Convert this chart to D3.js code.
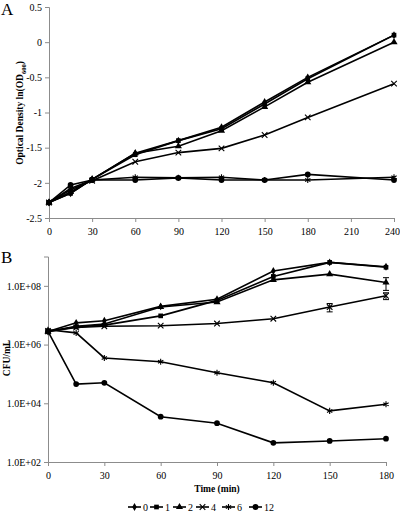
<!DOCTYPE html>
<html><head><meta charset="utf-8">
<script src="https://cdn.jsdelivr.net/npm/d3@7"></script>
<style>body{margin:0;background:#fff}svg{display:block}text{font-family:"Liberation Serif","Times New Roman",serif}</style>
</head><body><svg id="c" width="400" height="511"></svg>
<script>
// ---------- DATA ----------
const seriesNames = ["0","1","2","4","6","12"];
// Panel A: ln(OD600) vs time (min)
const timesA = [0,15,30,60,90,120,150,180,240];
const odA_0  = [-2.28,-2.15,-1.95,-1.58,-1.40,-1.21,-0.85,-0.50,0.10];
const odA_1  = [-2.28,-2.15,-1.95,-1.60,-1.40,-1.23,-0.88,-0.52,0.10];
const odA_2  = [-2.28,-2.13,-1.95,-1.58,-1.48,-1.26,-0.92,-0.57,0.00];
const odA_4  = [-2.28,-2.10,-1.97,-1.70,-1.57,-1.51,-1.32,-1.07,-0.59];
const odA_6  = [-2.28,-2.08,-1.96,-1.92,-1.93,-1.92,-1.96,-1.96,-1.92];
const odA_12 = [-2.28,-2.03,-1.96,-1.96,-1.93,-1.96,-1.96,-1.88,-1.96];
const yTicksA = [0.5,0,-0.5,-1,-1.5,-2,-2.5];
const xTicksA = [0,30,60,90,120,150,180,210,240];
// Panel B: CFU/mL vs time (min)
const timesB = [0,15,30,60,90,120,150,180];
const cfuB_0  = [2.8e6,5.5e6,6.5e6,2.0e7,3.5e7,3.2e8,6.3e8,4.5e8];
const cfuB_1  = [2.8e6,4.0e6,4.6e6,9.5e6,3.2e7,2.1e8,6.3e8,4.3e8];
const cfuB_2  = [2.8e6,4.2e6,5.0e6,1.9e7,2.8e7,1.6e8,2.5e8,1.3e8];
const cfuB_4  = [2.8e6,3.8e6,4.2e6,4.4e6,5.2e6,7.6e6,1.9e7,4.6e7];
const cfuB_6  = [3.2e6,2.5e6,3.5e5,2.6e5,1.1e5,5.0e4,5.5e3,9.3e3];
const cfuB_12 = [2.8e6,4.5e4,5.0e4,3.5e3,2.1e3,450,520,620];
const errB_2  = [0,0,0,0,0,0,0,6e7];
const errB_4  = [0,0,0,0,0,0,6e6,1.2e7];
const yTicksB = [1e2,1e4,1e6,1e8];
const yTickLabelsB = ["1.0E+02","1.0E+04","1.0E+06","1.0E+08"];
const xTicksB = [0,30,60,90,120,150,180];

// ---------- DRAW ----------
const svg = d3.select("#c");
const axisColor = "#8c8c8c";
const symbols = [d3.symbolDiamond,d3.symbolSquare,d3.symbolTriangle,d3.symbolTimes,d3.symbolAsterisk,d3.symbolCircle];
const symSizes = [18,22,22,22,26,26];
const strokeSym = [false,false,false,true,true,false];

function marker(g, i, x, y){
  const p = g.append("path")
    .attr("d", d3.symbol().type(symbols[i]).size(symSizes[i])())
    .attr("transform", `translate(${x},${y})`);
  if(strokeSym[i]) p.attr("fill","none").attr("stroke","#000").attr("stroke-width",1.1);
  else p.attr("fill","#000");
}
function styleAxis(g){
  g.select(".domain").attr("stroke",axisColor);
  g.selectAll("line").attr("stroke",axisColor);
  g.selectAll("text").attr("font-size",10).attr("fill","#000").attr("font-family","Liberation Serif");
}

// Panel A
const xA = d3.scaleLinear().domain([0,240]).range([49,394]);
const yA = d3.scaleLinear().domain([-2.5,0.5]).range([218,7]);
const gA = svg.append("g");
gA.append("g").attr("transform","translate(0,218)")
  .call(d3.axisBottom(xA).tickValues(xTicksA).tickSize(4).tickPadding(6).tickFormat(d3.format("d")))
  .call(styleAxis)
  .call(g=>g.selectAll(".tick text").filter(d=>d===240).attr("dx",-2));
gA.append("g").attr("transform","translate(49,0)")
  .call(d3.axisLeft(yA).tickValues(yTicksA).tickSize(4).tickPadding(3).tickFormat(d=>d))
  .call(styleAxis);
const seriesA = [odA_0,odA_1,odA_2,odA_4,odA_6,odA_12];
const lineA = d3.line().x((d,i)=>xA(timesA[i])).y(d=>yA(d));
seriesA.forEach((s,k)=>{
  gA.append("path").datum(s).attr("d",lineA).attr("fill","none").attr("stroke","#000").attr("stroke-width",1.6);
});
seriesA.forEach((s,k)=>{ s.forEach((v,i)=>marker(gA,k,xA(timesA[i]),yA(v))); });
svg.append("text").attr("x",1).attr("y",15).attr("font-size",17).text("A");
const tA = svg.append("text").attr("transform","translate(23,113) rotate(-90)")
  .attr("text-anchor","middle").attr("font-size",9.5).attr("font-weight","bold");
tA.append("tspan").text("Optical Density   ln(OD");
tA.append("tspan").attr("font-size",6.5).attr("dy",2.5).text("600");
tA.append("tspan").attr("dy",-2.5).text(")");

// Panel B
const xB = d3.scaleLinear().domain([0,180]).range([48,386]);
const yB = d3.scaleLog().domain([1e2,1e9]).range([462,256.5]);
const gB = svg.append("g");
gB.append("g").attr("transform","translate(0,462)")
  .call(d3.axisBottom(xB).tickValues(xTicksB).tickSize(4).tickPadding(6).tickFormat(d3.format("d")))
  .call(styleAxis);
gB.append("g").attr("transform","translate(48,0)")
  .call(d3.axisLeft(yB).tickValues(yTicksB).tickSize(4).tickPadding(3).tickFormat((d,i)=>yTickLabelsB[i]))
  .call(styleAxis);
const seriesB = [cfuB_0,cfuB_1,cfuB_2,cfuB_4,cfuB_6,cfuB_12];
const errsB = [null,null,errB_2,errB_4,null,null];
const lineB = d3.line().x((d,i)=>xB(timesB[i])).y(d=>yB(d));
seriesB.forEach((s,k)=>{
  gB.append("path").datum(s).attr("d",lineB).attr("fill","none").attr("stroke","#000").attr("stroke-width",1.6);
});
errsB.forEach((e,k)=>{ if(!e) return;
  e.forEach((v,i)=>{ if(!v) return;
    const x=xB(timesB[i]), y1=yB(seriesB[k][i]+v), y2=yB(seriesB[k][i]-v);
    gB.append("line").attr("x1",x).attr("x2",x).attr("y1",y1).attr("y2",y2).attr("stroke","#000").attr("stroke-width",1);
    [y1,y2].forEach(y=>gB.append("line").attr("x1",x-3).attr("x2",x+3).attr("y1",y).attr("y2",y).attr("stroke","#000").attr("stroke-width",1));
  });
});
seriesB.forEach((s,k)=>{ s.forEach((v,i)=>marker(gB,k,xB(timesB[i]),yB(v))); });
svg.append("text").attr("x",1).attr("y",263).attr("font-size",17).text("B");
svg.append("text").attr("transform","translate(10,358) rotate(-90)")
  .attr("text-anchor","middle").attr("font-size",9.5).attr("font-weight","bold").text("CFU/mL");
svg.append("text").attr("x",217).attr("y",492).attr("text-anchor","middle")
  .attr("font-size",9.5).attr("font-weight","bold").text("Time (min)");

// Legend
const legX = [128,150,173,196,222,249];
const lg = svg.append("g");
seriesNames.forEach((n,k)=>{
  const x0 = legX[k], y0 = 507;
  lg.append("line").attr("x1",x0).attr("x2",x0+13).attr("y1",y0).attr("y2",y0).attr("stroke","#000").attr("stroke-width",1.6);
  marker(lg,k,x0+6.5,y0);
  lg.append("text").attr("x",x0+15).attr("y",y0+3.5).attr("font-size",10).text(n);
});
</script></body></html>
